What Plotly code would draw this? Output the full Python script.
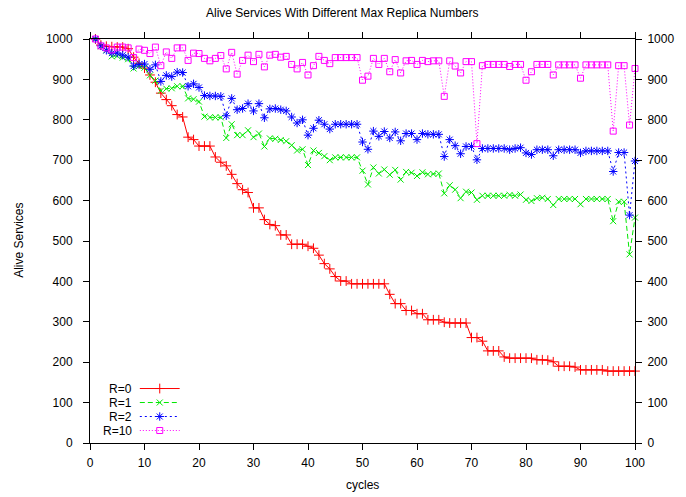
import plotly.graph_objects as go

cycles = list(range(1, 101))

r0 = [1000, 985, 982, 981, 980, 980, 976, 955, 940, 928,
      911, 893, 866, 850, 835, 813, 807, 757, 751, 735,
      735, 735, 708, 695, 686, 665, 642, 627, 620, 582,
      582, 553, 541, 538, 515, 515, 492, 492, 492, 487,
      482, 465, 444, 431, 412, 401, 401, 394, 394, 394,
      394, 394, 394, 394, 368, 345, 345, 328, 328, 320,
      320, 305, 305, 305, 299, 297, 297, 297, 297, 261,
      261, 252, 228, 228, 228, 213, 210, 210, 210, 210,
      210, 206, 206, 205, 201, 190, 190, 190, 188, 181,
      181, 181, 181, 181, 178, 178, 178, 178, 178, 178]

r1 = [1000, 982, 972, 957, 958, 954, 950, 927, 933, 929,
      910, 897, 872, 877, 878, 883, 883, 853, 851, 845,
      808, 806, 806, 806, 755, 789, 762, 762, 774, 757,
      766, 734, 754, 753, 750, 747, 737, 724, 727, 688,
      724, 718, 710, 700, 707, 707, 707, 707, 707, 674,
      640, 682, 667, 677, 664, 676, 652, 671, 669, 661,
      670, 665, 666, 667, 618, 638, 627, 606, 622, 620,
      602, 612, 612, 612, 612, 612, 614, 612, 615, 602,
      599, 606, 607, 604, 589, 604, 604, 604, 604, 591,
      604, 604, 604, 604, 604, 549, 597, 597, 467, 558]

r2 = [1000, 983, 972, 965, 965, 960, 955, 933, 937, 938,
      925, 936, 895, 910, 907, 918, 917, 883, 889, 880,
      860, 859, 859, 858, 810, 853, 825, 828, 840, 822,
      840, 805, 827, 828, 825, 822, 807, 792, 800, 762,
      779, 799, 789, 777, 789, 789, 789, 789, 789, 745,
      727, 772, 759, 771, 755, 770, 748, 766, 766, 751,
      766, 764, 764, 764, 709, 751, 736, 716, 734, 734,
      701, 729, 729, 729, 729, 729, 726, 729, 731, 718,
      714, 726, 726, 726, 711, 726, 726, 726, 726, 718,
      723, 723, 723, 723, 723, 672, 719, 719, 564, 698]

r10 = [1000, 983, 978, 973, 980, 980, 978, 954, 975, 972,
       964, 980, 934, 968, 952, 978, 978, 947, 965, 964,
       952, 946, 952, 959, 926, 967, 913, 947, 960, 944,
       962, 931, 960, 962, 955, 957, 937, 926, 942, 911,
       934, 957, 947, 939, 954, 954, 954, 954, 954, 898,
       908, 952, 937, 952, 919, 949, 916, 946, 947, 937,
       947, 944, 946, 946, 858, 946, 933, 916, 944, 944,
       741, 934, 937, 937, 937, 937, 932, 937, 937, 898,
       919, 937, 937, 937, 911, 936, 936, 936, 936, 903,
       936, 936, 936, 936, 936, 772, 934, 934, 787, 927]

series_names = ["R=0", "R=1", "R=2", "R=10"]
series_vals = [r0, r1, r2, r10]
colors = ["#ff0000", "#00e800", "#0000ff", "#ff00ff"]
dashes = ["solid", "5px,3px", "2px,3px", "1px,2px"]
symbols = ["cross-thin-open", "x-thin-open", "asterisk-open", "square-open"]
msizes = [7, 6, 7, 6]

x_ticks = list(range(0, 101, 10))
y_ticks = list(range(0, 1001, 100))

FONT = "Liberation Sans, Arial, sans-serif"

fig = go.Figure()

for name, vals, c, d, s, ms in zip(series_names, series_vals, colors, dashes, symbols, msizes):
    fig.add_trace(go.Scatter(
        x=cycles, y=vals, mode="lines+markers", name=name,
        line=dict(color=c, width=1, dash=d),
        marker=dict(symbol=s, size=ms, color=c, line=dict(color=c, width=1)),
        cliponaxis=False, showlegend=False, hoverinfo="skip"))

# dummy trace for the right-hand y axis labels
fig.add_trace(go.Scatter(x=[cycles[0]], y=[y_ticks[0]], yaxis="y2", mode="markers",
                         marker=dict(opacity=0), showlegend=False, hoverinfo="skip"))

# manual gnuplot-style key (text, then line sample), in plot-fraction coordinates
L, R, T, B = 90, 637, 39.3, 443.5
W, H = R - L, B - T
def px(v):
    return (v - L) / W
def py(v):
    return (B - v) / H

key_rows = [389, 403, 417, 431]
key_x0, key_x1, key_xm, key_txt = 140, 180, 160, 134
shapes = []
annotations = []
for name, c, d, s, ms, ry in zip(series_names, colors, dashes, symbols, msizes, key_rows):
    shapes.append(dict(type="line", xref="paper", yref="paper",
                       x0=px(key_x0), x1=px(key_x1), y0=py(ry), y1=py(ry),
                       line=dict(color=c, width=1, dash=d)))
    annotations.append(dict(text=name, xref="paper", yref="paper", x=px(key_txt), y=py(ry),
                            xanchor="right", yanchor="middle", showarrow=False,
                            font=dict(family=FONT, size=12, color="black")))
    fig.add_trace(go.Scatter(x=[px(key_xm)], y=[py(ry)], xaxis="x3", yaxis="y3", mode="markers",
                             marker=dict(symbol=s, size=ms, color=c, line=dict(color=c, width=1)),
                             cliponaxis=False, showlegend=False, hoverinfo="skip"))

annotations.append(dict(text="Alive Services With Different Max Replica Numbers",
                        xref="paper", yref="paper", x=px(343), y=py(13),
                        xanchor="center", yanchor="middle", showarrow=False,
                        font=dict(family=FONT, size=12, color="black")))
annotations.append(dict(text="cycles", xref="paper", yref="paper", x=px(363.5), y=py(486),
                        xanchor="center", yanchor="middle", showarrow=False,
                        font=dict(family=FONT, size=12, color="black")))
annotations.append(dict(text="Alive Services", xref="paper", yref="paper", x=px(18), y=py(241),
                        xanchor="center", yanchor="middle", showarrow=False, textangle=-90,
                        font=dict(family=FONT, size=12, color="black")))

axis_common = dict(showgrid=False, zeroline=False, ticks="outside", ticklen=6, tickwidth=1,
                   tickcolor="black", showline=True, linecolor="black", linewidth=1,
                   tickfont=dict(family=FONT, size=12, color="black"))

fig.update_layout(
    width=686, height=497,
    margin=dict(l=90, r=49, t=39, b=54, pad=0),
    paper_bgcolor="white", plot_bgcolor="white",
    showlegend=False,
    xaxis=dict(range=[0, 100], tickvals=x_ticks, mirror="ticks", ticklabelstandoff=3, **axis_common),
    yaxis=dict(range=[0, 1000], tickvals=y_ticks, mirror="ticks", ticklabelstandoff=8, **axis_common),
    yaxis2=dict(range=[0, 1000], tickvals=y_ticks, overlaying="y", side="right",
                showgrid=False, zeroline=False, ticks="outside", ticklen=6, tickwidth=1,
                tickcolor="black", showline=False, ticklabelstandoff=3,
                tickfont=dict(family=FONT, size=12, color="black")),
    xaxis3=dict(range=[0, 1], overlaying="x", visible=False, anchor="y3"),
    yaxis3=dict(range=[0, 1], overlaying="y", visible=False, anchor="x3"),
    shapes=shapes,
    annotations=annotations,
)

fig.write_html("out.html")
